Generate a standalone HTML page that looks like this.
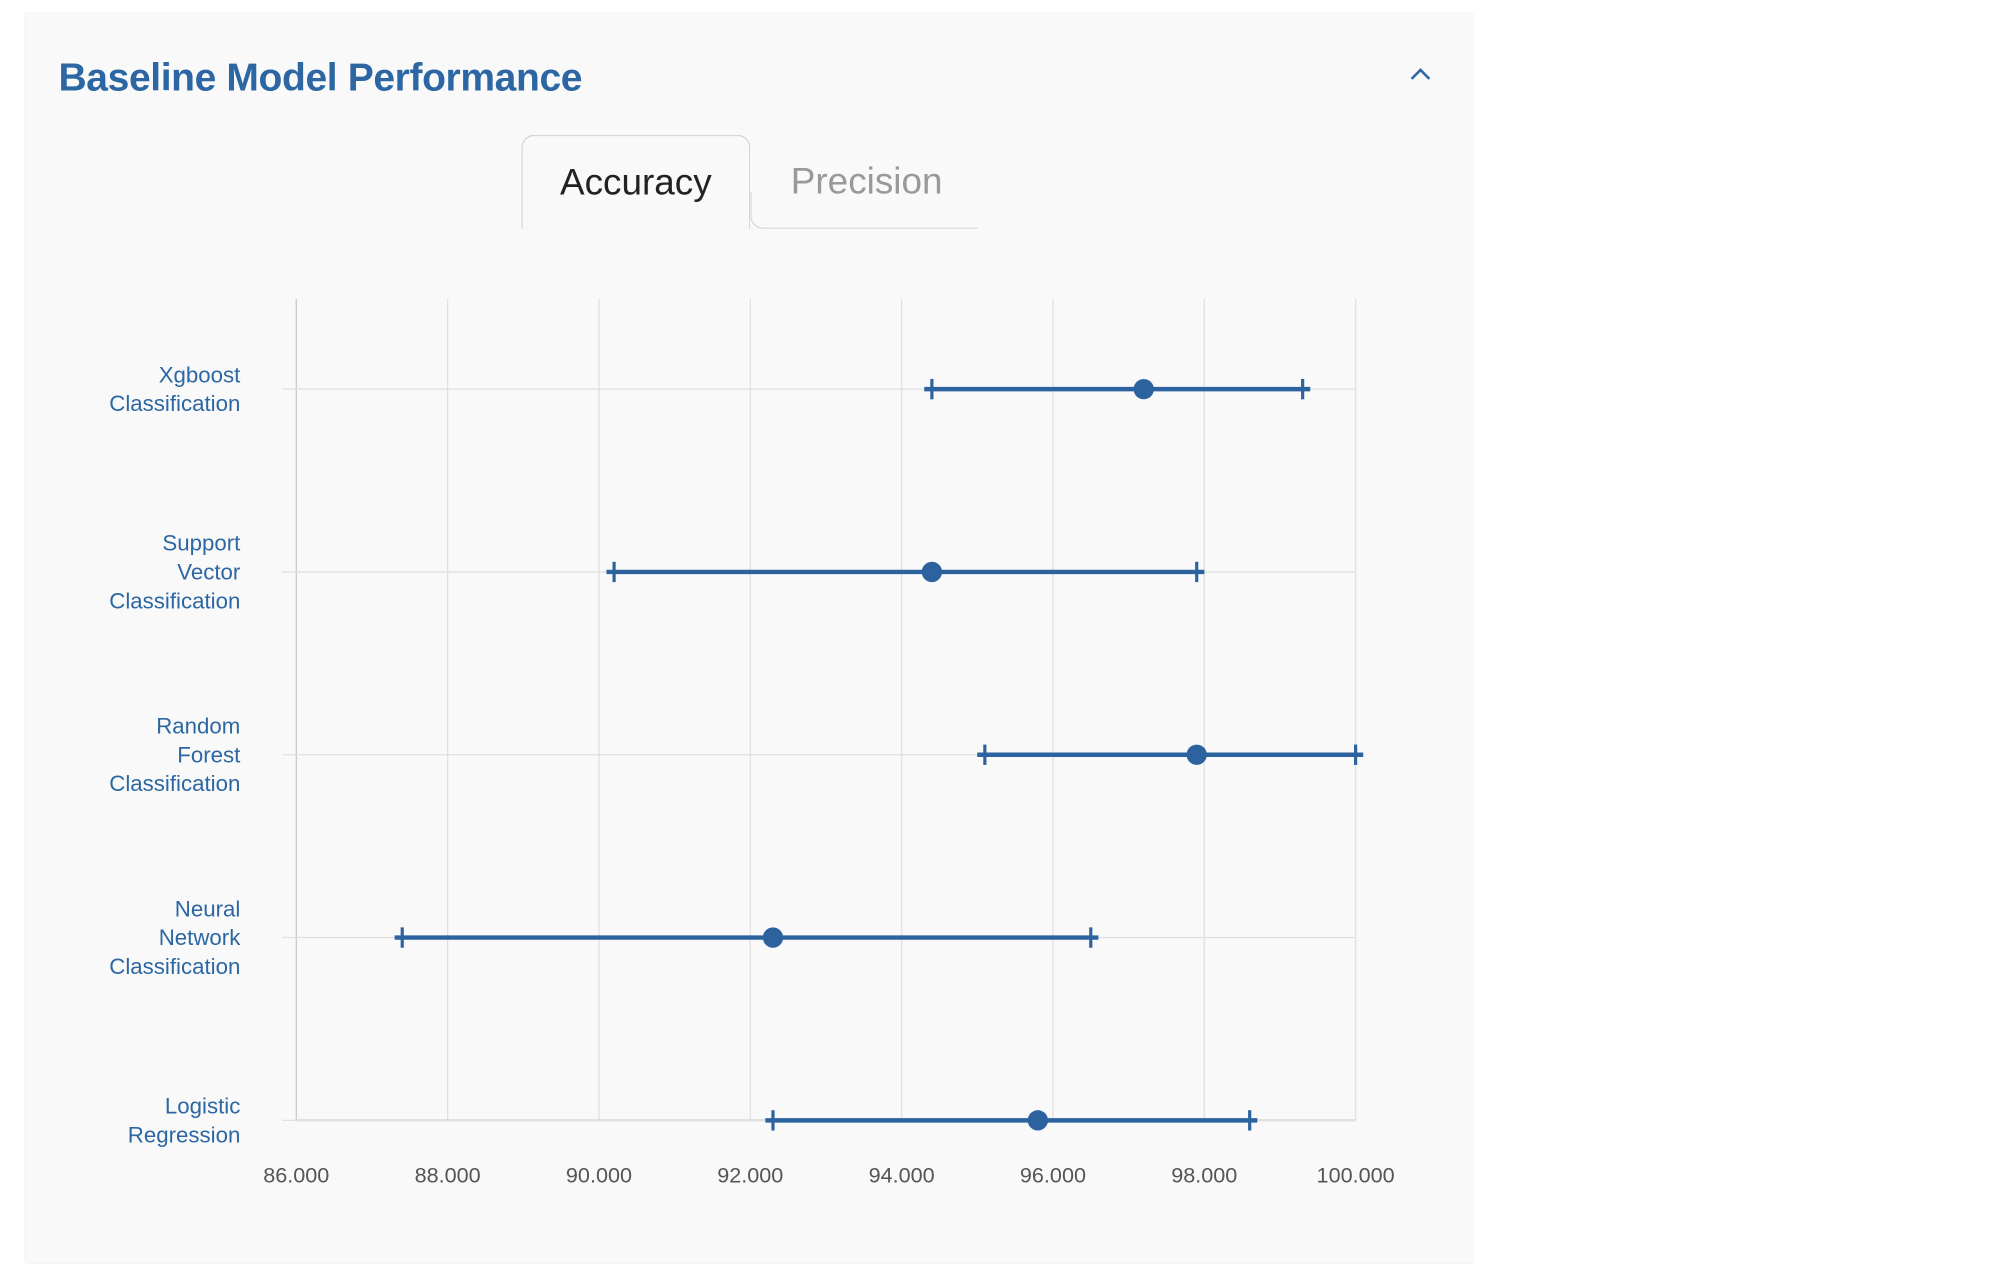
<!DOCTYPE html>
<html><head><meta charset="utf-8">
<style>
html,body{margin:0;padding:0;background:#fff;width:1994px;height:1264px;overflow:hidden;font-family:"Liberation Sans",sans-serif;}
#wrap{position:absolute;left:0;top:0;width:1568px;height:994px;transform:scale(1.27168);transform-origin:0 0;}
#card{position:absolute;left:20px;top:11px;width:1138px;height:982px;background:#f9f9f9;box-shadow:0 0 2px rgba(0,0,0,0.12);}
#title{position:absolute;left:26px;top:32px;font-size:30.7px;font-weight:bold;color:#2c67a3;letter-spacing:-0.3px;}
#chev{position:absolute;left:1088px;top:40px;}
.tab{position:absolute;top:95px;height:74px;font-size:29px;line-height:74px;text-align:center;box-sizing:border-box;}
#tab-acc{left:390px;width:180px;border:1px solid #d6d6d6;border-bottom:none;border-radius:10px 10px 0 0;color:#222;}
#tab-pre{left:570px;width:179px;color:#999;padding-left:4px;}
#tab-pre-line{position:absolute;left:570px;top:140px;width:179px;height:29px;box-sizing:border-box;border-bottom:1px solid #d6d6d6;border-left:1px solid #d6d6d6;border-radius:0 0 0 10px;}
#chart{position:absolute;left:0;top:0;}
</style></head><body>
<div id="wrap">
<div id="card">
  <div id="title">Baseline Model Performance</div>
  <svg id="chev" width="20" height="14"><polyline points="2,11 9,4 16,11" fill="none" stroke="#2c67a3" stroke-width="2"/></svg>
  <div class="tab" id="tab-acc">Accuracy</div>
  <div id="tab-pre-line"></div>
  <div class="tab" id="tab-pre">Precision</div>
</div>
<svg id="chart" width="1568" height="994"></svg>
</div>
<script>
const categories = ["Xgboost Classification","Support Vector Classification","Random Forest Classification","Neural Network Classification","Logistic Regression"];
const lowValues = [94.4, 90.2, 95.1, 87.4, 92.3];
const midValues = [97.2, 94.4, 97.9, 92.3, 95.8];
const highValues = [99.3, 97.9, 100.0, 96.5, 98.6];
const tickValues = [86,88,90,92,94,96,98,100];
const tickLabels = ["86.000","88.000","90.000","92.000","94.000","96.000","98.000","100.000"];

const NS="http://www.w3.org/2000/svg";
const svgEl=document.getElementById('chart');
const X0=233,X1=1066,XMIN=86,XMAX=100,PLOT_TOP=235,ROW_TOP=306,ROW_BOT=881;
const xs=v=>X0+(v-XMIN)/(XMAX-XMIN)*(X1-X0);
const ys=i=>ROW_TOP+i*(ROW_BOT-ROW_TOP)/(categories.length-1);
function mk(tag,attrs){const e=document.createElementNS(NS,tag);for(const k in attrs)e.setAttribute(k,attrs[k]);svgEl.appendChild(e);return e;}
tickValues.forEach((t,i)=>{
  const g=mk('line',{x1:xs(t),x2:xs(t),y1:PLOT_TOP,y2:ROW_BOT,stroke:i===0?'#c8c8c8':'#e0e0e0','stroke-width':1});
  
  
  const l=mk('text',{x:xs(t),y:930,'text-anchor':'middle','font-size':17,fill:'#555','font-family':'Liberation Sans, sans-serif'});
  l.textContent=tickLabels[i];
  
  
});
const ax=mk('line',{x1:X0,x2:X1,y1:ROW_BOT,y2:ROW_BOT,stroke:'#c8c8c8','stroke-width':1.5});


categories.forEach((c,i)=>{
  const y=ys(i);
  const gl=mk('line',{x1:222,x2:X1,y1:y,y2:y,stroke:'#e0e0e0','stroke-width':1});
  
  
  const words=c.split(' ');
  const lh=22.7,start=y-(words.length-1)*lh/2+6;
  const t=mk('text',{'text-anchor':'end','font-size':17.5,fill:'#2c67a3','font-family':'Liberation Sans, sans-serif'});
  
  
  words.forEach((w,j)=>{const s=document.createElementNS(NS,'tspan');s.setAttribute('x',189);s.setAttribute('y',start+j*lh);s.textContent=w;t.appendChild(s);});
  const bar=mk('line',{x1:xs(lowValues[i])-6,x2:xs(highValues[i])+6,y1:y,y2:y,stroke:'#2c639e','stroke-width':3.5});
  
  
  [lowValues[i],highValues[i]].forEach(v=>{
    const cap=mk('line',{x1:xs(v),x2:xs(v),y1:y-8,y2:y+8,stroke:'#2c639e','stroke-width':2.5});
    
    
  });
  const pt=mk('circle',{cx:xs(midValues[i]),cy:y,r:8,fill:'#2c639e'});
  
  
});
</script>
</body></html>
